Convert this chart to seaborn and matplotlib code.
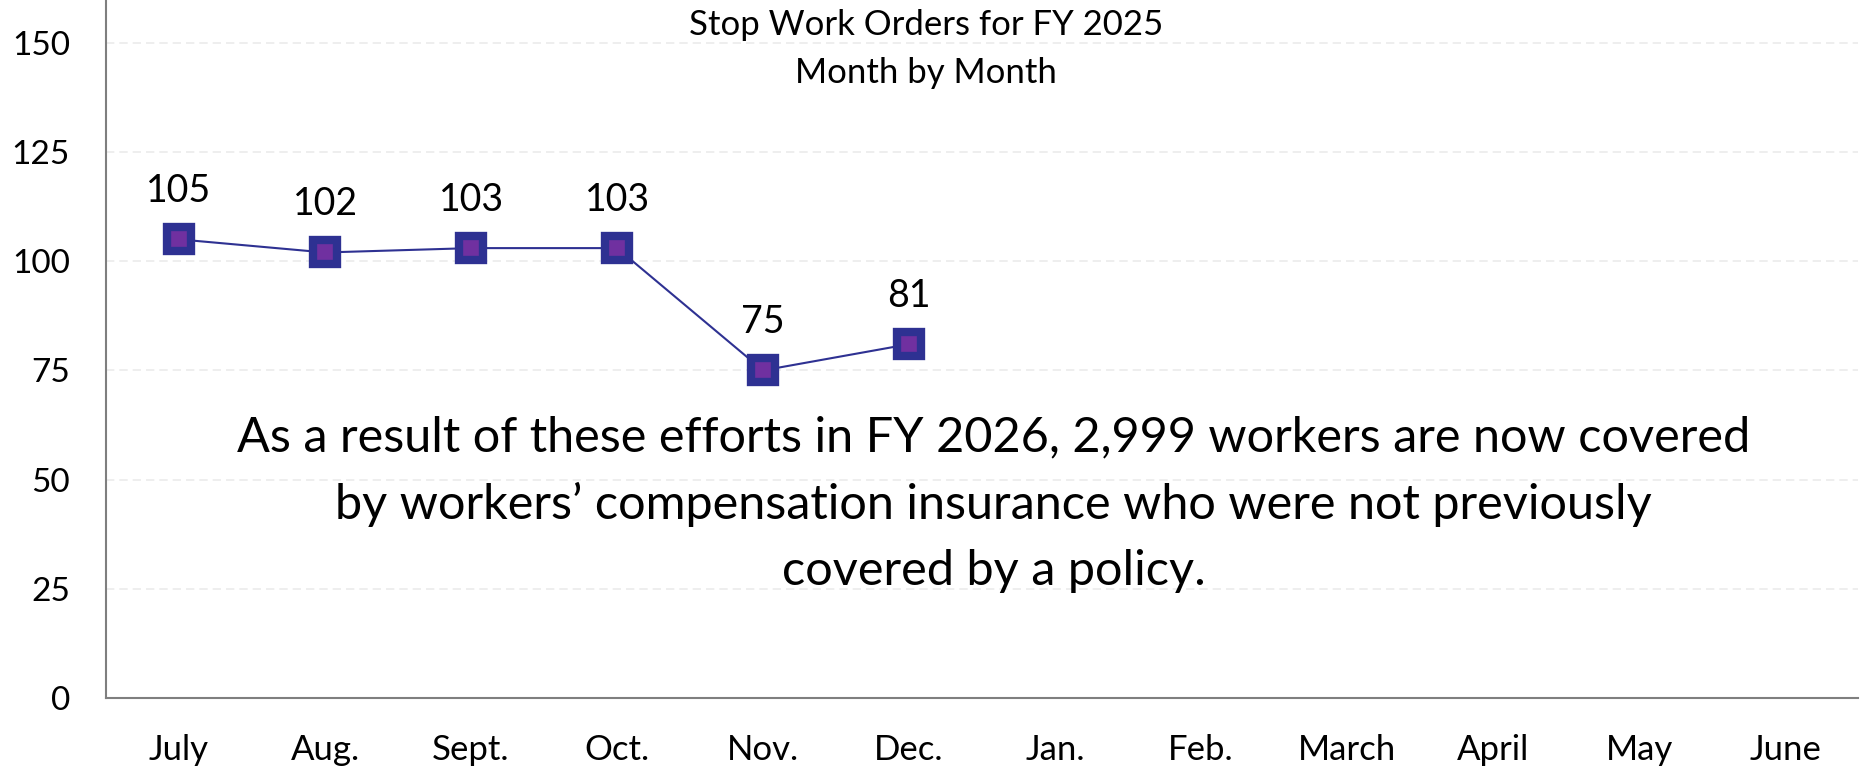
import matplotlib
matplotlib.use("Agg")
import matplotlib.pyplot as plt
import numpy as np
import pandas as pd
import seaborn as sns

# data
months = ["July", "Aug.", "Sept.", "Oct.", "Nov.", "Dec.",
          "Jan.", "Feb.", "March", "April", "May", "June"]
orders = [105, 102, 103, 103, 75, 81]
y_ticks = [0, 25, 50, 75, 100, 125, 150]
title_lines = ["Stop Work Orders for FY 2025", "Month by Month"]
note = ("As a result of these efforts in FY 2026, 2,999 workers are now covered\n"
        "by workers\u2019 compensation insurance who were not previously\n"
        "covered by a policy.")

sns.set_theme(style="white")
plt.rcParams["font.family"] = ["Lato", "DejaVu Sans"]
plt.rcParams["text.color"] = "black"

LINE = "#2E3192"
FILL = "#7030A0"
AXIS = "#7F7F7F"

df = pd.DataFrame({"pos": np.arange(len(orders)), "orders": orders})

fig = plt.figure(figsize=(18.64, 7.71), dpi=100)
ax = fig.add_axes([0.0569, 0.0947, 0.9399, 0.9047])

sns.lineplot(
    data=df, x="pos", y="orders", ax=ax,
    color=LINE, lw=1.5, marker="s", markersize=17,
    markerfacecolor=FILL, markeredgecolor=LINE, markeredgewidth=6,
    solid_joinstyle="round", zorder=3,
)
for lm in ax.lines:
    lm.set_markeredgecolor(LINE)

for x, v in zip(df["pos"], df["orders"]):
    ax.annotate(str(v), (x, v), xytext=(0, 35), textcoords="offset points",
                ha="center", va="center", fontsize=27, color="black")

ax.set_xlim(-0.5, len(months) - 0.5)
ax.set_ylim(0, 159.7)
ax.set_yticks(y_ticks)
ax.set_yticklabels([str(t) for t in y_ticks], fontsize=24)
ax.set_xticks(np.arange(len(months)))
ax.set_xticklabels(months, fontsize=25)
ax.set_xticks(np.arange(-0.5, len(months)), minor=True)
ax.tick_params(axis="x", which="major", length=0, pad=26, labelcolor="black")
ax.tick_params(axis="x", which="minor", length=9, width=1.5, color=AXIS, direction="out")
ax.tick_params(axis="y", length=10, width=1.5, color=AXIS, direction="out", pad=16,
               labelcolor="black")
ax.set_xlabel("")
ax.set_ylabel("")

for y in y_ticks[1:]:
    ax.axhline(y, color="#EBEBEB", lw=1.2, ls=(0, (5, 3)), zorder=0)

for side in ["top", "right"]:
    ax.spines[side].set_visible(False)
for side in ["left", "bottom"]:
    ax.spines[side].set_color(AXIS)
    ax.spines[side].set_linewidth(1.5)

fig.text(0.497, 0.968, title_lines[0], ha="center", va="center", fontsize=25)
fig.text(0.497, 0.905, title_lines[1], ha="center", va="center", fontsize=25)

fig.text(0.533, 0.346, note, ha="center", va="center", fontsize=35,
         linespacing=1.6)

fig.savefig("out.png", dpi=100)
